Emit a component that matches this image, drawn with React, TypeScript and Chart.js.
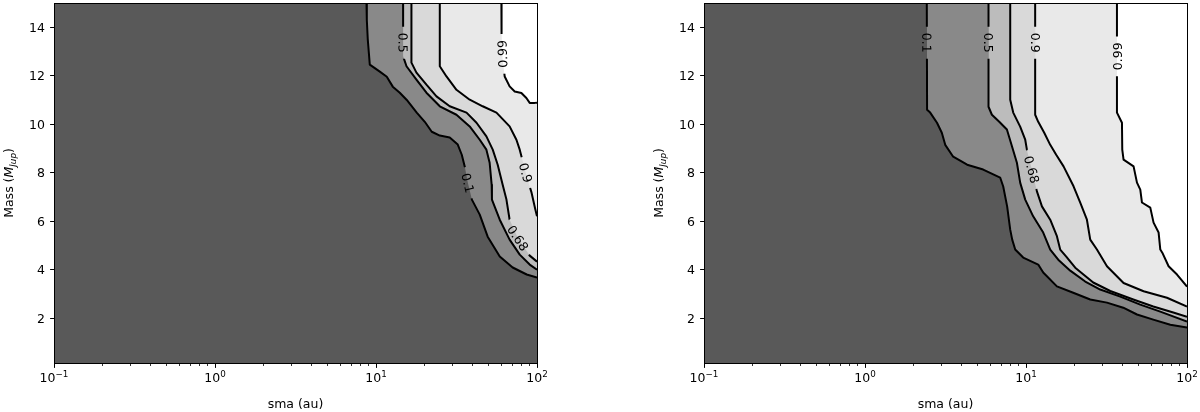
import React, { useEffect, useRef } from "react";
import { Chart, registerables } from "chart.js";

Chart.register(...registerables);

type Pt = [number, number];
type ContourLabel = { level: number; sma: number; mass: number; upward?: boolean };

// ---------------- data ----------------
const LEVEL_LABELS = ["0.1", "0.5", "0.68", "0.9", "0.99"];
const BAND_COLORS = ["#595959", "#898989", "#bcbcbc", "#d9d9d9", "#e9e9e9", "#ffffff"];
const X_MAJOR_TICKS = [0.1, 1, 10, 100];
const X_TICK_BASE = "10";
const X_TICK_EXPONENTS = ["\u22121", "0", "1", "2"];
const X_MINOR_MULT = [2, 3, 4, 5, 6, 7, 8, 9];
const Y_TICKS = [2, 4, 6, 8, 10, 12, 14];
const X_TITLE = "sma (au)";
const SMA_RANGE = [0.1, 100];
const MASS_RANGE = [0.15, 15];

// left panel contours (sma [au], mass [M_Jup])
const LEFT_C01: Pt[] = [[8.73, 15], [8.77, 14.3], [8.89, 13.5], [9.15, 12.46], [10.56, 12.17], [11.67, 11.96], [12.71, 11.55], [14.05, 11.3], [15.53, 11.0], [17.91, 10.48], [20.09, 10.1], [22.2, 9.69], [24.9, 9.53], [28.7, 9.45], [32.2, 9.16], [34.1, 8.74], [35.6, 8.25], [37.2, 7.59], [39.4, 6.89], [44.1, 6.27], [49.4, 5.36], [58.7, 4.54], [70.6, 4.09], [86.3, 3.8], [100, 3.67]];
const LEFT_C05: Pt[] = [[14.73, 15], [14.73, 13.5], [14.75, 12.8], [15.47, 12.39], [17.83, 11.84], [20.57, 11.3], [24.9, 10.74], [31.6, 10.39], [38.2, 9.91], [44.1, 9.36], [48.5, 8.95], [50.8, 8.41], [52.3, 7.5], [52.5, 6.89], [58.7, 6.06], [67.6, 5.24], [78.1, 4.62], [90.1, 4.21], [100, 4.0]];
const LEFT_C068: Pt[] = [[16.6, 15], [16.6, 12.54], [17.83, 12.13], [20.57, 11.63], [23.75, 11.15], [28.7, 10.74], [36.5, 10.48], [42.1, 10.06], [48.5, 9.5], [53.1, 8.95], [57.0, 8.33], [61.2, 7.5], [64.6, 6.89], [67.6, 6.06], [75.9, 5.32], [90.1, 4.58], [100, 4.33]];
const LEFT_C09: Pt[] = [[24.9, 15], [24.9, 12.39], [27.4, 11.97], [31.6, 11.42], [38.2, 11.01], [46.0, 10.74], [56.0, 10.48], [67.6, 9.91], [74.5, 9.36], [78.1, 8.95], [82.6, 8.33], [87.5, 7.71], [92.3, 7.2], [97.5, 6.5], [100, 6.2]];
const LEFT_C099: Pt[] = [[60.1, 15], [60.1, 14.31], [60.4, 13.49], [61.2, 12.66], [63.0, 11.97], [67.6, 11.56], [72.7, 11.35], [80.0, 11.29], [85.9, 11.08], [90.1, 10.88], [96.9, 10.88], [100, 10.89]];
const LEFT_LABELS: ContourLabel[] = [
  { level: 1, sma: 14.73, mass: 13.36 },
  { level: 4, sma: 60.8, mass: 12.9, upward: true },
  { level: 0, sma: 37.3, mass: 7.58 },
  { level: 3, sma: 83.9, mass: 7.99 },
  { level: 2, sma: 76.2, mass: 5.31 },
];

// right panel contours
const RIGHT_C01: Pt[] = [[2.42, 15], [2.43, 10.6], [2.54, 10.48], [2.8, 10.06], [3.0, 9.65], [3.15, 9.15], [3.53, 8.66], [4.31, 8.33], [5.42, 8.13], [6.91, 7.8], [7.22, 7.43], [7.64, 6.6], [7.98, 5.65], [8.21, 5.24], [8.57, 4.83], [9.61, 4.5], [11.91, 4.21], [12.79, 3.88], [15.56, 3.31], [19.65, 3.05], [25.06, 2.77], [31.83, 2.64], [40.19, 2.43], [48.9, 2.15], [61.74, 1.94], [78.76, 1.73], [100, 1.61]];
const RIGHT_C05: Pt[] = [[5.85, 15], [5.85, 10.72], [6.14, 10.39], [6.82, 10.1], [7.61, 9.78], [8.18, 9.09], [8.78, 8.41], [9.2, 7.59], [9.89, 6.89], [11.08, 6.2], [12.79, 5.53], [14.14, 4.83], [15.86, 4.41], [18.83, 3.96], [23.33, 3.51], [28.92, 3.18], [38.5, 2.89], [51.27, 2.56], [68.27, 2.27], [100, 1.86]];
const RIGHT_C068: Pt[] = [[7.98, 15], [7.98, 11.01], [8.33, 10.48], [9.2, 9.9], [9.89, 9.36], [10.13, 8.95], [10.47, 8.54], [10.88, 8.13], [11.24, 7.71], [11.69, 7.23], [12.56, 6.61], [14.14, 6.06], [15.56, 5.38], [16.31, 4.83], [17.78, 4.54], [20.22, 4.08], [26.16, 3.47], [33.37, 3.12], [46.39, 2.77], [61.74, 2.48], [82.2, 2.23], [100, 2.06]];
const RIGHT_C09: Pt[] = [[11.4, 15], [11.4, 10.39], [11.91, 10.1], [12.98, 9.65], [14.14, 9.15], [15.4, 8.74], [17.11, 8.26], [19.74, 7.44], [21.72, 6.77], [23.9, 6.06], [25.06, 5.24], [27.58, 4.83], [31.83, 4.14], [40.36, 3.45], [53.75, 3.11], [75.1, 2.84], [100, 2.48]];
const RIGHT_C099: Pt[] = [[36.72, 15], [36.72, 10.48], [39.45, 10.06], [39.62, 8.95], [40.36, 8.54], [46.58, 8.26], [48.9, 7.59], [51.27, 7.3], [52.52, 6.77], [59.15, 6.56], [62.0, 5.94], [66.63, 5.53], [68.27, 4.83], [70.24, 4.7], [76.86, 4.14], [86.69, 3.8], [100, 3.3]];
const RIGHT_LABELS: ContourLabel[] = [
  { level: 0, sma: 2.42, mass: 13.36 },
  { level: 1, sma: 5.85, mass: 13.36 },
  { level: 3, sma: 11.4, mass: 13.36 },
  { level: 4, sma: 36.72, mass: 12.8, upward: true },
  { level: 2, sma: 10.88, mass: 8.13 },
];

const LEFT_CONTOURS = [LEFT_C01, LEFT_C05, LEFT_C068, LEFT_C09, LEFT_C099];
const RIGHT_CONTOURS = [RIGHT_C01, RIGHT_C05, RIGHT_C068, RIGHT_C09, RIGHT_C099];

// ---------------- drawing helpers ----------------
const FONT = '"DejaVu Sans", "Liberation Sans", sans-serif';
const FS = 12.5;
const DIGIT_MID = (0.729 * FS) / 2;

function snap(v: number) {
  return Math.floor(v) + 0.5;
}

function labelGeometry(chart: any, contours: Pt[][], labels: ContourLabel[]) {
  const xs = chart.scales.x;
  const ys = chart.scales.y;
  const ctx = chart.ctx;
  ctx.save();
  ctx.font = `${FS}px ${FONT}`;
  const out = labels.map((l) => {
    const pts = contours[l.level].map(([a, b]) => [xs.getPixelForValue(a), ys.getPixelForValue(b)]);
    const tx = xs.getPixelForValue(l.sma);
    const ty = ys.getPixelForValue(l.mass);
    let best = { d: Infinity, x: tx, y: ty, ang: Math.PI / 2 };
    for (let i = 0; i < pts.length - 1; i++) {
      const [x1, y1] = pts[i];
      const [x2, y2] = pts[i + 1];
      const dx = x2 - x1;
      const dy = y2 - y1;
      const L2 = dx * dx + dy * dy;
      if (L2 < 1e-9) continue;
      let t = ((tx - x1) * dx + (ty - y1) * dy) / L2;
      t = Math.max(0, Math.min(1, t));
      const px = x1 + t * dx;
      const py = y1 + t * dy;
      const d = (px - tx) ** 2 + (py - ty) ** 2;
      if (d < best.d) best = { d, x: px, y: py, ang: Math.atan2(dy, dx) };
    }
    let a = best.ang;
    if (a > Math.PI / 2 + 1e-9) a -= Math.PI;
    if (a < -Math.PI / 2 - 1e-9) a += Math.PI;
    if (l.upward) a -= Math.PI;
    const text = LEVEL_LABELS[l.level];
    return { level: l.level, x: best.x, y: best.y, a, text, w: ctx.measureText(text).width };
  });
  ctx.restore();
  return out;
}

function drawYTitle(ctx: CanvasRenderingContext2D, x: number, y: number) {
  const parts = [
    { t: "Mass (", f: `${FS}px ${FONT}`, dy: 0 },
    { t: "M", f: `italic ${FS}px ${FONT}`, dy: 0 },
    { t: "Jup", f: `italic ${FS * 0.7}px ${FONT}`, dy: 2.8 },
    { t: ")", f: `${FS}px ${FONT}`, dy: 0 },
  ];
  ctx.save();
  ctx.translate(x, y);
  ctx.rotate(-Math.PI / 2);
  ctx.textAlign = "left";
  ctx.textBaseline = "alphabetic";
  let total = 0;
  const widths = parts.map((p) => {
    ctx.font = p.f;
    const w = ctx.measureText(p.t).width;
    total += w;
    return w;
  });
  let cx = -total / 2;
  parts.forEach((p, i) => {
    ctx.font = p.f;
    ctx.fillText(p.t, cx, p.dy);
    cx += widths[i];
  });
  ctx.restore();
}

function makeDecorPlugin(contours: Pt[][], labels: ContourLabel[]) {
  const clipped = new Set<number>();
  return {
    id: "contourDecor",
    beforeDatasetsDraw(chart: any) {
      const { ctx, chartArea: a } = chart;
      ctx.save();
      ctx.fillStyle = BAND_COLORS[0];
      ctx.fillRect(a.left, a.top, a.right - a.left, a.bottom - a.top);
      ctx.restore();
    },
    beforeDatasetDraw(chart: any, args: any) {
      const ds = chart.data.datasets[args.index];
      if (!ds.isContourLine) return;
      const ctx = chart.ctx;
      const geo = labelGeometry(chart, contours, labels).filter((g) => g.level === ds.level);
      ctx.save();
      ctx.beginPath();
      ctx.rect(0, 0, chart.width, chart.height);
      geo.forEach((g) => {
        const hw = g.w / 2 + 6;
        const hh = 7;
        const c = Math.cos(g.a);
        const s = Math.sin(g.a);
        const corners = [[-hw, -hh], [hw, -hh], [hw, hh], [-hw, hh]];
        corners.forEach(([u, v], i) => {
          const X = g.x + u * c - v * s;
          const Y = g.y + u * s + v * c;
          if (i === 0) ctx.moveTo(X, Y);
          else ctx.lineTo(X, Y);
        });
        ctx.closePath();
      });
      ctx.clip("evenodd");
      clipped.add(args.index);
    },
    afterDatasetDraw(chart: any, args: any) {
      if (clipped.has(args.index)) {
        chart.ctx.restore();
        clipped.delete(args.index);
      }
    },
    afterDraw(chart: any) {
      const { ctx, chartArea: a } = chart;
      const xs = chart.scales.x;
      const ys = chart.scales.y;
      const L = snap(a.left);
      const R = snap(a.right);
      const T = snap(a.top);
      const B = snap(a.bottom);
      ctx.save();
      ctx.strokeStyle = "#000";
      ctx.lineWidth = 1;
      ctx.strokeRect(L, T, R - L, B - T);
      ctx.beginPath();
      Y_TICKS.forEach((v) => {
        const y = snap(ys.getPixelForValue(v));
        ctx.moveTo(L, y);
        ctx.lineTo(L - 4.4, y);
      });
      X_MAJOR_TICKS.forEach((v) => {
        const x = snap(xs.getPixelForValue(v));
        ctx.moveTo(x, B);
        ctx.lineTo(x, B + 4.4);
      });
      ctx.stroke();
      ctx.lineWidth = 0.8;
      ctx.beginPath();
      X_MAJOR_TICKS.slice(0, -1).forEach((d) =>
        X_MINOR_MULT.forEach((m) => {
          const x = snap(xs.getPixelForValue(d * m));
          ctx.moveTo(x, B);
          ctx.lineTo(x, B + 2.5);
        })
      );
      ctx.stroke();

      ctx.fillStyle = "#000";
      ctx.textBaseline = "alphabetic";
      ctx.font = `${FS}px ${FONT}`;
      ctx.textAlign = "right";
      Y_TICKS.forEach((v) => ctx.fillText(String(v), a.left - 9, ys.getPixelForValue(v) + DIGIT_MID));

      ctx.textAlign = "left";
      X_MAJOR_TICKS.forEach((v, i) => {
        const x = xs.getPixelForValue(v);
        ctx.font = `${FS}px ${FONT}`;
        const w1 = ctx.measureText(X_TICK_BASE).width;
        ctx.font = `${FS * 0.7}px ${FONT}`;
        const w2 = ctx.measureText(X_TICK_EXPONENTS[i]).width;
        const x0 = x - (w1 + w2) / 2;
        const by = a.bottom + 18.5;
        ctx.font = `${FS}px ${FONT}`;
        ctx.fillText(X_TICK_BASE, x0, by);
        ctx.font = `${FS * 0.7}px ${FONT}`;
        ctx.fillText(X_TICK_EXPONENTS[i], x0 + w1, by - 4.5);
      });

      ctx.font = `${FS}px ${FONT}`;
      ctx.textAlign = "center";
      ctx.fillText(X_TITLE, (a.left + a.right) / 2, a.bottom + 45);

      drawYTitle(ctx, a.left - 40.7, (a.top + a.bottom) / 2);

      const geo = labelGeometry(chart, contours, labels);
      geo.forEach((g) => {
        ctx.save();
        ctx.translate(g.x, g.y);
        ctx.rotate(g.a);
        ctx.font = `${FS}px ${FONT}`;
        ctx.textAlign = "center";
        ctx.textBaseline = "alphabetic";
        ctx.fillStyle = "#000";
        ctx.fillText(g.text, 0, DIGIT_MID);
        ctx.restore();
      });
      ctx.restore();
    },
  };
}

type PanelProps = { contours: Pt[][]; labels: ContourLabel[]; left: number; padLeft: number; padRight: number };

function ContourPanel({ contours, labels, left, padLeft, padRight }: PanelProps) {
  const ref = useRef<HTMLCanvasElement>(null);
  useEffect(() => {
    const canvas = ref.current;
    if (!canvas) return;
    const fills = contours.map((pts, i) => ({
      data: pts.map(([x, y]) => ({ x, y })),
      fill: "end",
      backgroundColor: BAND_COLORS[i + 1],
      borderColor: "rgba(0,0,0,0)",
      borderWidth: 0,
      pointRadius: 0,
      tension: 0,
      order: 10 - i,
      level: i,
      isContourLine: false,
    }));
    const lines = contours.map((pts, i) => ({
      data: pts.map(([x, y]) => ({ x, y })),
      fill: false,
      borderColor: "#000",
      borderWidth: 2,
      borderJoinStyle: "round",
      pointRadius: 0,
      tension: 0,
      order: 0,
      level: i,
      isContourLine: true,
    }));
    const chart = new Chart(canvas, {
      type: "line",
      data: { datasets: [...fills, ...lines] as any },
      options: {
        animation: false,
        responsive: false,
        maintainAspectRatio: false,
        devicePixelRatio: 1,
        events: [],
        layout: { padding: { left: padLeft, right: padRight, top: 3, bottom: 49 } },
        scales: {
          x: { type: "logarithmic", min: SMA_RANGE[0], max: SMA_RANGE[1], bounds: "data", display: false },
          y: { type: "linear", min: MASS_RANGE[0], max: MASS_RANGE[1], bounds: "data", display: false },
        },
        plugins: { legend: { display: false }, tooltip: { enabled: false } },
      } as any,
      plugins: [makeDecorPlugin(contours, labels) as any],
    });
    return () => chart.destroy();
  }, []);
  return (
    <canvas
      ref={ref}
      width={600}
      height={412}
      style={{ position: "absolute", left, top: 0, width: 600, height: 412, display: "block" }}
    />
  );
}

export default function App() {
  return (
    <div style={{ position: "fixed", left: 0, top: 0, width: 1200, height: 412, background: "#fff", overflow: "hidden" }}>
      <ContourPanel contours={LEFT_CONTOURS} labels={LEFT_LABELS} left={0} padLeft={54} padRight={63} />
      <ContourPanel contours={RIGHT_CONTOURS} labels={RIGHT_LABELS} left={600} padLeft={104} padRight={13} />
    </div>
  );
}
